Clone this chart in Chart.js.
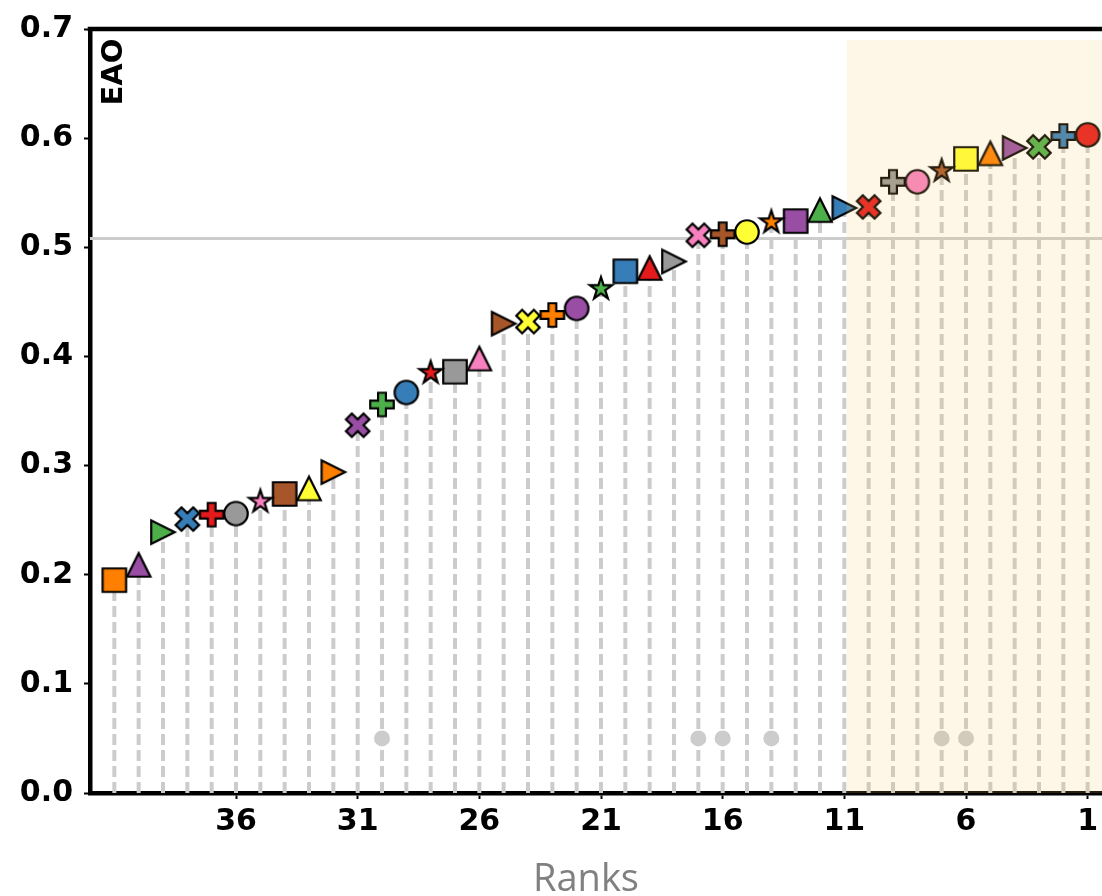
<!DOCTYPE html>
<html>
<head>
<meta charset="utf-8">
<script src="https://cdn.jsdelivr.net/npm/chart.js@4.4.1/dist/chart.umd.min.js"></script>
<style>
  html, body { margin: 0; padding: 0; background: #fff; overflow: hidden; width: 1102px; height: 896px; }
  #wrap { position: relative; width: 1125px; height: 896px; }
</style>
</head>
<body>
<div id="wrap"><canvas id="c" width="1125" height="896"></canvas></div>
<script>
// Expected Average Overlap per tracker, ordered from rank 1 (best) to rank 41
const ranks = [1, 2, 3, 4, 5, 6, 7, 8, 9, 10,
               11, 12, 13, 14, 15, 16, 17, 18, 19, 20,
               21, 22, 23, 24, 25, 26, 27, 28, 29, 30,
               31, 32, 33, 34, 35, 36, 37, 38, 39, 40, 41];
const eao = [0.603, 0.602, 0.592, 0.591, 0.586, 0.581, 0.570, 0.560, 0.560, 0.537,
             0.536, 0.534, 0.524, 0.523, 0.514, 0.512, 0.511, 0.487, 0.481, 0.478,
             0.462, 0.444, 0.438, 0.432, 0.430, 0.398, 0.386, 0.385, 0.367, 0.356,
             0.337, 0.294, 0.279, 0.274, 0.267, 0.256, 0.255, 0.251, 0.239, 0.209, 0.195];

// Tick labels
const xTickLabels = [36, 31, 26, 21, 16, 11, 6, 1];
const yTickLabels = [0.0, 0.1, 0.2, 0.3, 0.4, 0.5, 0.6, 0.7];

// State-of-the-art bound and the flagged trackers
const sotaBound = 0.508;
const flaggedRanks = [30, 17, 16, 14, 7, 6];
const flagLevel = 0.05;

// Top-10 highlight band (in rank / EAO units)
const bandFromRank = 10.9;
const bandTop = 0.69;

// Marker styling cycles
const palette = ['#ff7f00', '#984ea3', '#4daf4a', '#377eb8', '#e41a1c', '#999999', '#f781bf', '#a65628', '#ffff33'];
const shapes = ['square', 'triUp', 'triRight', 'x', 'plus', 'circle', 'star'];

function makeMarker(shape, fill) {
  const s = 23.5, lw = 2.2, size = 34;
  const cv = document.createElement('canvas');
  cv.width = size; cv.height = size;
  const g = cv.getContext('2d');
  g.translate(size / 2, size / 2);
  const h = s / 2;
  const poly = (pts, k) => {
    pts.forEach((p, i) => i ? g.lineTo(p[0] * k, -p[1] * k) : g.moveTo(p[0] * k, -p[1] * k));
    g.closePath();
  };
  g.beginPath();
  if (shape === 'square') {
    g.rect(-h, -h, s, s);
  } else if (shape === 'triUp') {
    poly([[0, 1], [-1, -1], [1, -1]], h);
  } else if (shape === 'triRight') {
    poly([[1, 0], [-1, 1], [-1, -1]], h);
  } else if (shape === 'circle') {
    g.arc(0, 0, h, 0, Math.PI * 2);
  } else if (shape === 'x') {
    poly([[-1, -2], [0, -1], [1, -2], [2, -1], [1, 0], [2, 1], [1, 2], [0, 1], [-1, 2], [-2, 1], [-1, 0], [-2, -1]], s / 4);
  } else if (shape === 'plus') {
    poly([[-1, -3], [-1, -1], [-3, -1], [-3, 1], [-1, 1], [-1, 3], [1, 3], [1, 1], [3, 1], [3, -1], [1, -1], [1, -3]], s / 6);
  } else if (shape === 'star') {
    const pts = [];
    for (let i = 0; i < 10; i++) {
      const r = i % 2 ? 0.381966 : 1;
      const a = Math.PI / 2 + i * Math.PI / 5;
      pts.push([r * Math.cos(a), r * Math.sin(a)]);
    }
    poly(pts, h);
  }
  g.fillStyle = fill;
  g.fill();
  g.lineJoin = 'miter';
  g.lineWidth = lw;
  g.strokeStyle = '#000';
  g.stroke();
  return cv;
}

const n = ranks.length;
const markerStyles = ranks.map(r => {
  const k = n - r;
  return makeMarker(shapes[k % shapes.length], palette[k % palette.length]);
});

// Dashed stems from zero up to each tracker's score
const stemPoints = [];
ranks.forEach((r, i) => {
  stemPoints.push({ x: r, y: 0 }, { x: r, y: eao[i] }, { x: r, y: null });
});

const boldFont = { family: 'DejaVu Sans', weight: 'bold', size: 30 };

const decorations = {
  id: 'decorations',
  afterDatasetsDraw(chart) {
    const { ctx, scales: { x, y } } = chart;
    const x0 = x.getPixelForValue(bandFromRank);
    const x1 = x.getPixelForValue(x.min);
    const y0 = y.getPixelForValue(bandTop);
    const y1 = y.getPixelForValue(0);
    ctx.save();
    ctx.fillStyle = 'rgba(245, 200, 100, 0.15)';
    ctx.fillRect(x0, y0, x1 - x0, y1 - y0);
    ctx.restore();
  },
  afterDraw(chart) {
    const { ctx, chartArea: a } = chart;
    ctx.save();
    ctx.strokeStyle = '#000';
    ctx.lineWidth = 4.5;
    ctx.beginPath();
    ctx.moveTo(a.left - 2.25, a.top);
    ctx.lineTo(a.right, a.top);
    ctx.lineTo(a.right, a.bottom);
    ctx.stroke();

    // y-axis name inside the frame
    ctx.fillStyle = '#000';
    ctx.font = 'bold 29px "DejaVu Sans"';
    ctx.translate(a.left + 32, a.top + 43);
    ctx.rotate(-Math.PI / 2);
    ctx.textAlign = 'center';
    ctx.textBaseline = 'alphabetic';
    ctx.fillText('EAO', 0, 0);
    ctx.restore();

    // x-axis name
    ctx.save();
    ctx.fillStyle = '#808080';
    ctx.font = '38px "Open Sans"';
    ctx.textAlign = 'center';
    ctx.textBaseline = 'alphabetic';
    ctx.fillText('Ranks', (a.left + a.right) / 2 - 15, chart.height - 5);
    ctx.restore();
  }
};

new Chart(document.getElementById('c'), {
  type: 'line',
  data: {
    datasets: [
      {
        label: 'trackers',
        data: ranks.map((r, i) => ({ x: r, y: eao[i] })),
        showLine: false,
        pointStyle: markerStyles,
        pointRadius: 12,
        clip: false,
        order: 1
      },
      {
        label: 'flagged',
        data: flaggedRanks.map(r => ({ x: r, y: flagLevel })),
        showLine: false,
        pointStyle: 'circle',
        pointRadius: 8,
        pointBorderWidth: 0,
        pointBackgroundColor: '#cccccc',
        pointBorderColor: '#cccccc',
        order: 2
      },
      {
        label: 'stems',
        data: stemPoints,
        borderColor: '#cccccc',
        borderWidth: 4,
        borderDash: [11, 5],
        pointRadius: 0,
        spanGaps: false,
        order: 3
      },
      {
        label: 'sota',
        data: [{ x: 0, y: sotaBound }, { x: 42, y: sotaBound }],
        borderColor: '#cccccc',
        borderWidth: 3,
        pointRadius: 0,
        order: 4
      }
    ]
  },
  options: {
    responsive: false,
    animation: false,
    events: [],
    layout: { padding: { left: 0, top: 25, right: 13, bottom: 0 } },
    plugins: { legend: { display: false }, tooltip: { enabled: false } },
    scales: {
      x: {
        type: 'linear',
        reverse: true,
        min: 0,
        max: 42,
        afterBuildTicks: s => { s.ticks = xTickLabels.map(v => ({ value: v })); },
        afterFit: s => { s.height = 103; },
        ticks: { font: boldFont, color: '#000', padding: 5, maxRotation: 0, autoSkip: false, callback: v => String(v) },
        grid: { drawOnChartArea: false, drawTicks: true, tickLength: 6, tickWidth: 2, tickColor: '#000' },
        border: { display: true, color: '#000', width: 4.5 }
      },
      y: {
        type: 'linear',
        min: 0,
        max: 0.7,
        afterBuildTicks: s => { s.ticks = yTickLabels.map(v => ({ value: v })); },
        afterFit: s => { s.width = 90; },
        ticks: { font: boldFont, color: '#000', padding: 11, callback: v => Number(v).toFixed(1) },
        grid: { drawOnChartArea: false, drawTicks: true, tickLength: 6, tickWidth: 2, tickColor: '#000' },
        border: { display: true, color: '#000', width: 4.5 }
      }
    }
  },
  plugins: [decorations]
});
</script>
</body>
</html>
